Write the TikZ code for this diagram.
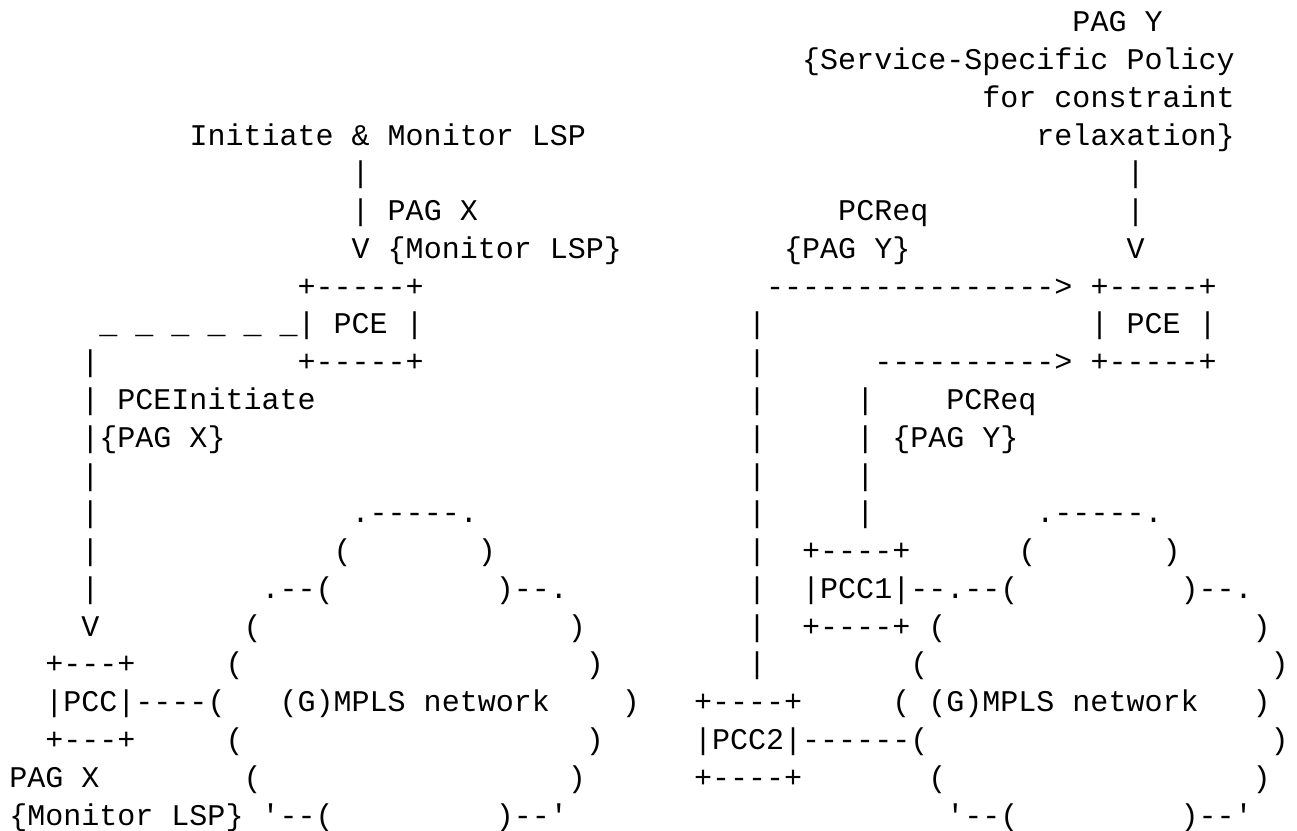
\documentclass[tikz,border=0pt]{standalone}
\usepackage{fontspec}
\setmonofont{Liberation Mono}
\tikzset{frag/.style={anchor=base west, inner sep=0pt, outer sep=0pt,
  font=\ttfamily\fontsize{30.03pt}{36pt}\selectfont, text=black}}
\newcommand{\frag}[4]{\node[frag] (#1) at ({9.3+18.02*#3},{798.3-37.78*(#2-1)}) {#4};}
\begin{document}
\begin{tikzpicture}[x=1pt,y=1pt]
\fill[white] (0,0) rectangle (1297,830);
\useasboundingbox (0,0) rectangle (1297,830);
% row 1-4
\frag{a1}{1}{59}{PAG Y}
\frag{a2}{2}{44}{\{Service-Specific Policy}
\frag{a3}{3}{54}{for constraint}
\frag{a4}{4}{10}{Initiate \& Monitor LSP}
\frag{b4}{4}{57}{relaxation\}}
% row 5-7
\frag{a5}{5}{19}{\textbar}
\frag{b5}{5}{62}{\textbar}
\frag{a6}{6}{19}{\textbar{} PAG X}
\frag{b6}{6}{46}{PCReq}
\frag{c6}{6}{62}{\textbar}
\frag{a7}{7}{19}{V \{Monitor LSP\}}
\frag{b7}{7}{43}{\{PAG Y\}}
\frag{c7}{7}{62}{V}
% row 8
\frag{a8}{8}{16}{+-----+}
\frag{b8}{8}{42}{---------------->}
\frag{c8}{8}{60}{+-----+}
% row 9
\frag{a9}{9}{5}{\_ \_ \_ \_ \_ \_\textbar{} PCE \textbar}
\frag{b9}{9}{41}{\textbar}
\frag{c9}{9}{60}{\textbar{} PCE \textbar}
% row 10
\frag{a10}{10}{4}{\textbar}
\frag{b10}{10}{16}{+-----+}
\frag{c10}{10}{41}{\textbar}
\frag{d10}{10}{48}{---------->}
\frag{e10}{10}{60}{+-----+}
% row 11
\frag{a11}{11}{4}{\textbar{} PCEInitiate}
\frag{b11}{11}{41}{\textbar}
\frag{c11}{11}{47}{\textbar}
\frag{d11}{11}{52}{PCReq}
% row 12
\frag{a12}{12}{4}{\textbar\{PAG X\}}
\frag{b12}{12}{41}{\textbar}
\frag{c12}{12}{47}{\textbar{} \{PAG Y\}}
% row 13
\frag{a13}{13}{4}{\textbar}
\frag{b13}{13}{41}{\textbar}
\frag{c13}{13}{47}{\textbar}
% row 14
\frag{a14}{14}{4}{\textbar}
\frag{b14}{14}{19}{.-----.}
\frag{c14}{14}{41}{\textbar}
\frag{d14}{14}{47}{\textbar}
\frag{e14}{14}{57}{.-----.}
% row 15
\frag{a15}{15}{4}{\textbar}
\frag{b15}{15}{18}{(}
\frag{c15}{15}{26}{)}
\frag{d15}{15}{41}{\textbar}
\frag{e15}{15}{44}{+----+}
\frag{f15}{15}{56}{(}
\frag{g15}{15}{64}{)}
% row 16
\frag{a16}{16}{4}{\textbar}
\frag{b16}{16}{14}{.--(}
\frag{c16}{16}{27}{)--.}
\frag{d16}{16}{41}{\textbar}
\frag{e16}{16}{44}{\textbar PCC1\textbar--.--(}
\frag{f16}{16}{65}{)--.}
% row 17
\frag{a17}{17}{4}{V}
\frag{b17}{17}{13}{(}
\frag{c17}{17}{31}{)}
\frag{d17}{17}{41}{\textbar}
\frag{e17}{17}{44}{+----+ (}
\frag{f17}{17}{69}{)}
% row 18
\frag{a18}{18}{2}{+---+}
\frag{b18}{18}{12}{(}
\frag{c18}{18}{32}{)}
\frag{d18}{18}{41}{\textbar}
\frag{e18}{18}{50}{(}
\frag{f18}{18}{70}{)}
% row 19
\frag{a19}{19}{2}{\textbar PCC\textbar----(}
\frag{b19}{19}{15}{(G)MPLS network}
\frag{c19}{19}{34}{)}
\frag{d19}{19}{38}{+----+}
\frag{e19}{19}{49}{( (G)MPLS network}
\frag{f19}{19}{69}{)}
% row 20
\frag{a20}{20}{2}{+---+}
\frag{b20}{20}{12}{(}
\frag{c20}{20}{32}{)}
\frag{d20}{20}{38}{\textbar PCC2\textbar------(}
\frag{e20}{20}{70}{)}
% row 21
\frag{a21}{21}{0}{PAG X}
\frag{b21}{21}{13}{(}
\frag{c21}{21}{31}{)}
\frag{d21}{21}{38}{+----+}
\frag{e21}{21}{51}{(}
\frag{f21}{21}{69}{)}
% row 22
\frag{a22}{22}{0}{\{Monitor LSP\} \textquotesingle--(}
\frag{b22}{22}{27}{)--\textquotesingle}
\frag{c22}{22}{52}{\textquotesingle--(}
\frag{d22}{22}{65}{)--\textquotesingle}
\end{tikzpicture}
\end{document}
